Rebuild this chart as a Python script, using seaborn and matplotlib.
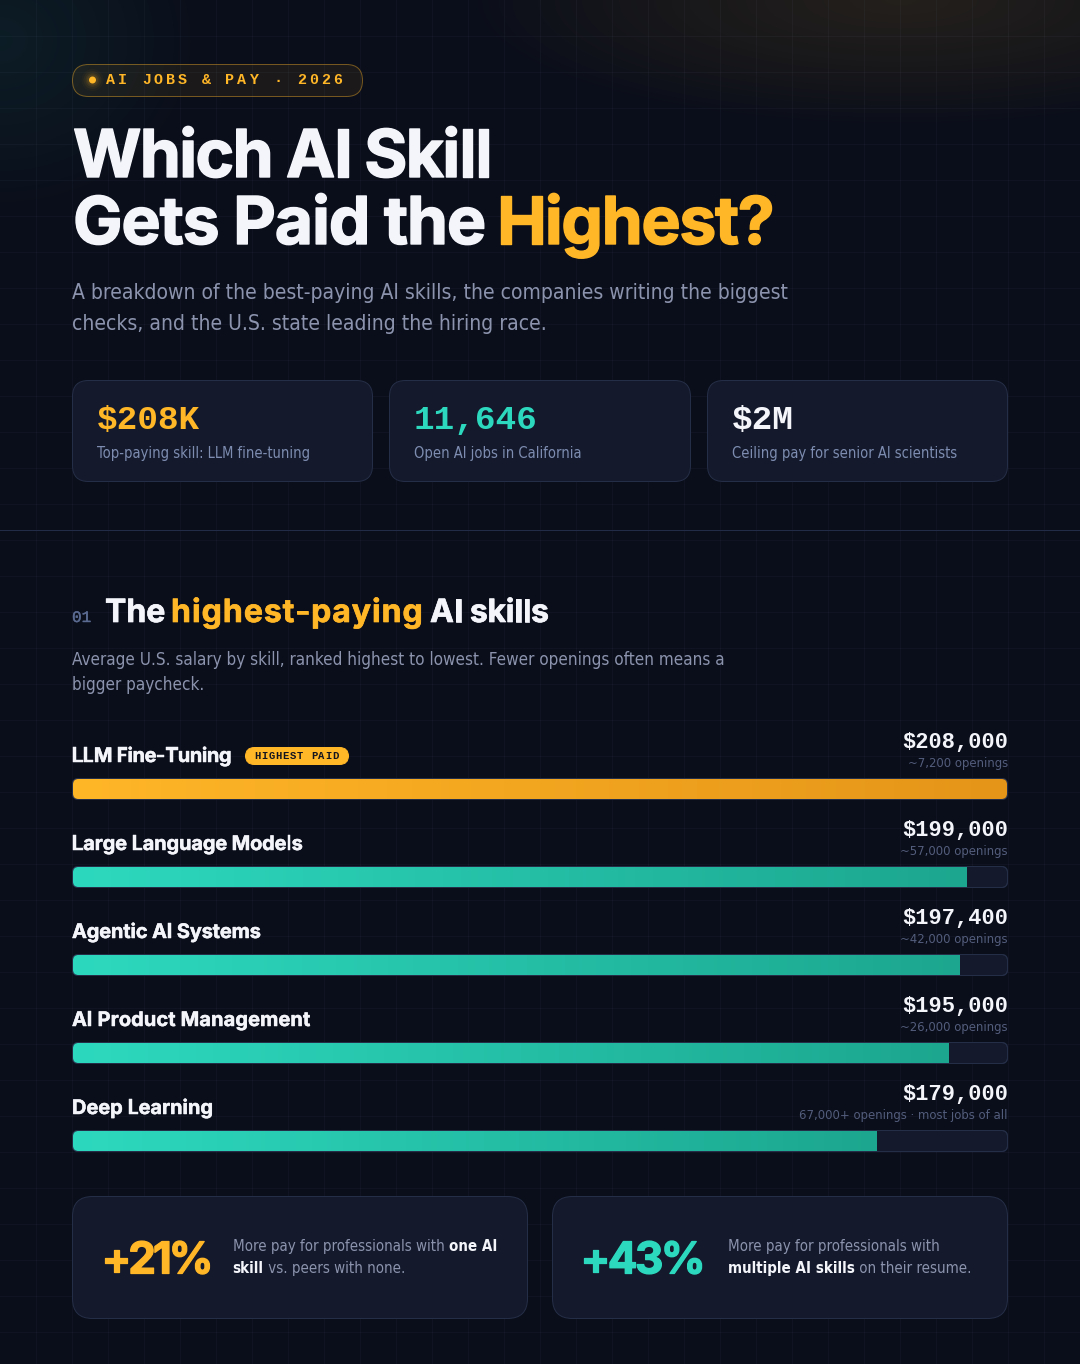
import numpy as np
import pandas as pd
import matplotlib
matplotlib.use("Agg")
import matplotlib.pyplot as plt
from matplotlib.patches import FancyBboxPatch, Circle
from matplotlib.text import Text
from matplotlib.transforms import Bbox
from matplotlib.colors import LinearSegmentedColormap
import matplotlib.patheffects as pe
import seaborn as sns

# ---- data -------------------------------------------------------------
SKILLS = ["LLM Fine-Tuning", "Large Language Models", "Agentic AI Systems",
          "AI Product Management", "Deep Learning"]
SALARIES = [208000, 199000, 197400, 195000, 179000]
OPENINGS = ["~7,200 openings", "~57,000 openings", "~42,000 openings",
            "~26,000 openings", "67,000+ openings · most jobs of all"]
BADGE = "AI JOBS & PAY · 2026"
STAT_VALUES = ["$208K", "11,646", "$2M"]
STAT_LABELS = ["Top-paying skill: LLM fine-tuning", "Open AI jobs in California",
               "Ceiling pay for senior AI scientists"]
LIFT_VALUES = ["+21%", "+43%"]

# ---- style ------------------------------------------------------------
BG = "#0a0e1a"; CARD = "#141a2c"; EDGE = "#252e47"
AMBER = "#ffb627"; AMBER2 = "#e59518"; TEAL = "#2dd9be"; TEAL2 = "#1ca68f"
WHITE = "#f4f5fb"; MUTED = "#8b93ad"; LABEL = "#7d8cb0"; DIM = "#535d7c"
HEAD = "Inter"; BODY = "DejaVu Sans"; MONO = "Liberation Mono"
PX = 72 / 100  # one pixel in points at dpi 100

sns.set_theme(style="dark", rc={"axes.facecolor": BG, "figure.facecolor": BG})
plt.rcParams["font.family"] = [BODY]
W, H = 1080, 1364
fig = plt.figure(figsize=(W / 100, H / 100), dpi=100, facecolor=BG)

# ---- page layer, in pixel coordinates ---------------------------------
pg = fig.add_axes([0, 0, 1, 1], zorder=0)
pg.set_xlim(0, W); pg.set_ylim(H, 0); pg.axis("off")

yy, xx = np.mgrid[0:H, 0:W]
amber_a = 0.105 * np.clip(1 - np.hypot((xx - 900) / 430, yy / 125), 0, 1) ** 0.8
teal_a = 0.075 * np.clip(1 - np.hypot(xx / 200, (yy - 40) / 170), 0, 1) ** 0.9
rgb = np.ones((H, W, 3)) * np.array([10, 14, 26]) / 255
rgb = rgb * (1 - amber_a[..., None]) + np.array([255, 182, 39]) / 255 * amber_a[..., None]
rgb = rgb * (1 - teal_a[..., None]) + np.array([45, 212, 191]) / 255 * teal_a[..., None]
pg.imshow(rgb, extent=(0, W, H, 0), aspect="auto", zorder=0, interpolation="nearest")
pg.set_xlim(0, W); pg.set_ylim(H, 0)
for gx in range(36, W, 36):
    pg.plot([gx + .5, gx + .5], [0, H], color="#c8d4ff", alpha=.035, lw=PX, zorder=1, snap=False)
for gy in range(36, H, 36):
    pg.plot([0, W], [gy + .5, gy + .5], color="#c8d4ff", alpha=.035, lw=PX, zorder=1, snap=False)
pg.plot([0, W], [530.5, 530.5], color="#232c46", lw=PX, zorder=1, snap=False)


class TrackedText(Text):
    """One text set with a fixed extra gap, in pixels, between its letters."""
    def __init__(self, x, y, s, track, **kw):
        super().__init__(x, y, s, **kw)
        self.track = track

    def get_window_extent(self, renderer=None, dpi=None):
        bb = super().get_window_extent(renderer, dpi)
        return Bbox([[bb.x0, bb.y0], [bb.x1 + self.track * (len(self.get_text()) - 1), bb.y1]])

    def draw(self, renderer):
        x, y = self.get_position()
        fp = self.get_fontproperties()
        s = self.get_text()
        w0 = renderer.get_text_width_height_descent("|", fp, False)[0]
        for i, ch in enumerate(s):
            w = renderer.get_text_width_height_descent(s[:i] + "|", fp, False)[0] - w0
            t = Text(x + w + i * self.track, y, ch, color=self.get_color(), fontproperties=fp,
                     va="baseline", ha="left", transform=self.get_transform(),
                     path_effects=self.get_path_effects())
            t.set_figure(self.get_figure())
            t.draw(renderer)


def txt(x, y, s, size, color, family=BODY, weight="normal", ha="left", stroke=0, track=None):
    stretch = "condensed" if family == BODY else "normal"
    kw = dict(fontsize=size * PX, color=color, family=family, weight=weight,
              stretch=stretch, zorder=5)
    if stroke:
        kw["path_effects"] = [pe.withStroke(linewidth=stroke, foreground=color)]
    if track is not None:
        t = TrackedText(x, y, s, track, **kw)
        pg.add_artist(t)
        return t
    return pg.text(x, y, s, ha=ha, va="baseline", **kw)


def run(x, y, parts, size):
    """Set coloured pieces one after the other on a line."""
    r = fig.canvas.get_renderer()
    for s, color, weight in parts:
        t = txt(x, y, s, size, color, BODY, weight)
        fp = t.get_fontproperties()
        x += r.get_text_width_height_descent(s + "|", fp, False)[0] \
            - r.get_text_width_height_descent("|", fp, False)[0]
    return x


def card(x0, y0, x1, y1, r, fc=CARD, ec=EDGE, z=2):
    p = FancyBboxPatch((x0 + .5, y0 + .5), x1 - x0 - 1, y1 - y0 - 1,
                       boxstyle=f"round,pad=0,rounding_size={r}", fc=fc, ec=ec,
                       lw=PX, zorder=z)
    pg.add_patch(p)
    return p


# badge
card(72, 64, 363, 97, 16, fc=(1, .714, .153, .07), ec=(1, .714, .153, .42))
for rad, a in zip([11, 9, 7, 5.5], [.03, .05, .07, .10]):
    pg.add_patch(Circle((92.5, 80), rad, fc=AMBER, ec="none", alpha=a, zorder=3))
pg.add_patch(Circle((92.5, 80), 3.5, fc=AMBER, ec="none", zorder=4))
txt(106, 84.5, BADGE, 15, AMBER, MONO, "bold", track=2.95)

# title
txt(73, 177, "Which AI Skill", 66, WHITE, HEAD, "bold", stroke=1.0, track=-1.7)
txt(73, 244, "Gets Paid the", 66, WHITE, HEAD, "bold", stroke=1.0, track=-1.1)
txt(497, 244, "Highest?", 66, AMBER, HEAD, "bold", stroke=1.0, track=-1.4)
txt(72, 299, "A breakdown of the best-paying AI skills, the companies writing the biggest", 21, MUTED)
txt(72, 330, "checks, and the U.S. state leading the hiring race.", 21, MUTED)

# stat cards
for (x0, x1), v, lab, col in zip([(72, 373), (389, 691), (707, 1008)], STAT_VALUES,
                                 STAT_LABELS, [AMBER, TEAL, WHITE]):
    card(x0, 380, x1, 482, 16)
    txt(x0 + 25, 429, v, 34.4, col, MONO, "bold")
    txt(x0 + 25, 458, lab, 14.6, LABEL)

# section head
txt(72, 622, "01", 16, "#5a6a90", MONO, "normal", stroke=.3)
txt(105, 622, "The", 32, WHITE, HEAD, "bold", stroke=.5)
txt(171, 622, "highest-paying", 32, AMBER, HEAD, "bold", stroke=.5, track=1.0)
txt(430, 622, "AI skills", 32, WHITE, HEAD, "bold", stroke=.5, track=-.2)
txt(72, 665, "Average U.S. salary by skill, ranked highest to lowest. Fewer openings often means a", 17, MUTED)
txt(72, 690, "bigger paycheck.", 17, MUTED)

# ---- the chart itself -------------------------------------------------
ROW = 88
bx = fig.add_axes([73 / W, 1 - 1185 / H, 934 / W, 440 / H], zorder=1)
df = pd.DataFrame({"skill": SKILLS, "salary": SALARIES})
sns.barplot(data=df, y="skill", x="salary", hue="skill", legend=False, orient="h",
            palette=[AMBER, TEAL, TEAL, TEAL, TEAL], width=20 / ROW, ax=bx, saturation=1,
            linewidth=0, edgecolor="none")
TOP = max(SALARIES)
bx.set_xlim(0, TOP)
bx.set_ylim(len(SKILLS) - .5, -.5)
bx.patch.set_alpha(0)
bx.axis("off")
xu = TOP / 934; yu = 1 / ROW
amber_cm = LinearSegmentedColormap.from_list("a", [AMBER, AMBER2])
teal_cm = LinearSegmentedColormap.from_list("t", [TEAL, TEAL2])
ramp = np.linspace(0, 1, 256)[None, :]
NAME_TRACK = [-.47, -.15, -.15, .1, -.05]

for i, (bar, name, val, op) in enumerate(zip(bx.patches, SKILLS, SALARIES, OPENINGS)):
    tr = FancyBboxPatch((-.5 * xu, i - 10.5 * yu), TOP + xu, 21 * yu,
                        boxstyle=f"round,pad=0,rounding_size={6 * xu}",
                        mutation_aspect=yu / xu, fc=CARD, ec=EDGE, lw=PX,
                        zorder=.5, clip_on=False)
    bx.add_patch(tr)
    bar.set_clip_path(tr)
    im = bx.imshow(ramp, cmap=amber_cm if i == 0 else teal_cm, aspect="auto", zorder=3,
                   extent=(0, val, i + 10 * yu, i - 10 * yu))
    im.set_clip_path(tr)
    edge = FancyBboxPatch((-.5 * xu, i - 10.5 * yu), TOP + xu, 21 * yu,
                          boxstyle=f"round,pad=0,rounding_size={6 * xu}",
                          mutation_aspect=yu / xu, fc="none", ec=EDGE, lw=PX,
                          zorder=4, clip_on=False)
    bx.add_patch(edge)
    txt(72, 762 + ROW * i, name, 20, WHITE, HEAD, "bold", stroke=.35, track=NAME_TRACK[i])
    bx.annotate(f"${val:,.0f}", (TOP, i), xytext=(1 * PX, 41.5 * PX), textcoords="offset points",
                fontsize=22 * PX, color=WHITE, family=MONO, weight="bold",
                ha="right", va="baseline", annotation_clip=False)
    bx.annotate(op, (TOP, i), xytext=(1 * PX, 22 * PX), textcoords="offset points",
                fontsize=13 * PX, color=DIM, stretch="condensed", ha="right", va="baseline",
                annotation_clip=False)
bx.set_xlim(0, TOP)
bx.set_ylim(len(SKILLS) - .5, -.5)

# highest paid tag
card(245, 747, 349, 765, 9, fc=AMBER, ec=AMBER)
txt(254, 759, "HIGHEST PAID", 10.5, "#12141f", MONO, "bold", track=.9)

# bottom cards
card(72, 1196, 528, 1319, 20)
card(552, 1196, 1008, 1319, 20)
txt(101.5, 1273.5, LIFT_VALUES[0], 44, AMBER, HEAD, "bold", stroke=.9, track=-3)
txt(580.5, 1273.5, LIFT_VALUES[1], 44, TEAL, HEAD, "bold", stroke=.9, track=-2.5)
run(232.7, 1251, [("More pay for professionals with ", MUTED, "normal"), ("one AI", WHITE, "bold")], 15)
run(232.7, 1273, [("skill", WHITE, "bold"), (" vs. peers with none.", MUTED, "normal")], 15)
txt(727.7, 1251, "More pay for professionals with", 15, MUTED)
run(727.7, 1273, [("multiple AI skills", WHITE, "bold"), (" on their resume.", MUTED, "normal")], 15)

fig.savefig("out.png", dpi=100, facecolor=BG)
